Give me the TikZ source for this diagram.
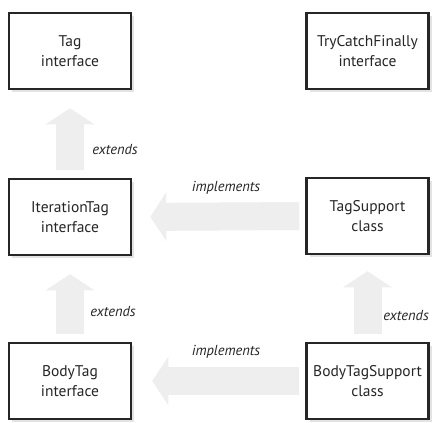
\documentclass[tikz,border=0pt]{standalone}
\usepackage{fontspec}
\setmainfont{PT Sans}
\usetikzlibrary{arrows.meta, shadows}
\definecolor{cdark}{HTML}{262626}
\definecolor{cfat}{HTML}{EEEEEE}
\tikzset{
  every picture/.style={font=\fontsize{15.5}{20}\selectfont, text=cdark},
  box/.style={draw=cdark, fill=white, line width=2.6pt, align=center,
              minimum width=122pt, minimum height=76pt, inner sep=2pt,
              drop shadow={opacity=0.22, shadow xshift=3pt, shadow yshift=-3pt}},
  fat/.style={draw=cfat, line width=28pt, -{Triangle[length=16pt, width=48pt]}},
  lbl/.style={font=\fontsize{14.5}{17}\selectfont\itshape, inner sep=1pt},
}
\begin{document}
\begin{tikzpicture}[x=1pt, y=-1pt]
  \useasboundingbox[fill=white] (0,0) rectangle (432,423);
  % boxes
  \node[box] (tag)   at (70,51)    {Tag\\interface};
  \node[box] (tcf)   at (367.5,51) {TryCatchFinally\\interface};
  \node[box] (iter)  at (70,217)   {IterationTag\\interface};
  \node[box] (tsup)  at (367.5,216) {TagSupport\\class};
  \node[box] (body)  at (70,381)   {BodyTag\\interface};
  \node[box] (btsup) at (367.5,381) {BodyTagSupport\\class};
  % fat arrows (behind the labels)
  \draw[fat, shorten >=18pt, shorten <=8pt] (iter.north) -- (tag.south);
  \draw[fat, shorten >=18pt, shorten <=8pt] (body.north) -- (iter.south);
  \draw[fat, shorten >=16pt, shorten <=8pt] (btsup.north) -- (tsup.south);
  \draw[fat, shorten >=18pt, shorten <=6pt] (tsup.west) -- (iter.east);
  \draw[fat, shorten >=20pt, shorten <=6pt] (btsup.west) -- (body.east);
  % labels
  \node[lbl] (ext1) at (115,150) {extends};
  \node[lbl] (imp1) at (226,188) {implements};
  \node[lbl] (ext2) at (113,312) {extends};
  \node[lbl] (imp2) at (226,352) {implements};
  \node[lbl, anchor=east] (ext3) at (430,316) {extends};
\end{tikzpicture}
\end{document}
